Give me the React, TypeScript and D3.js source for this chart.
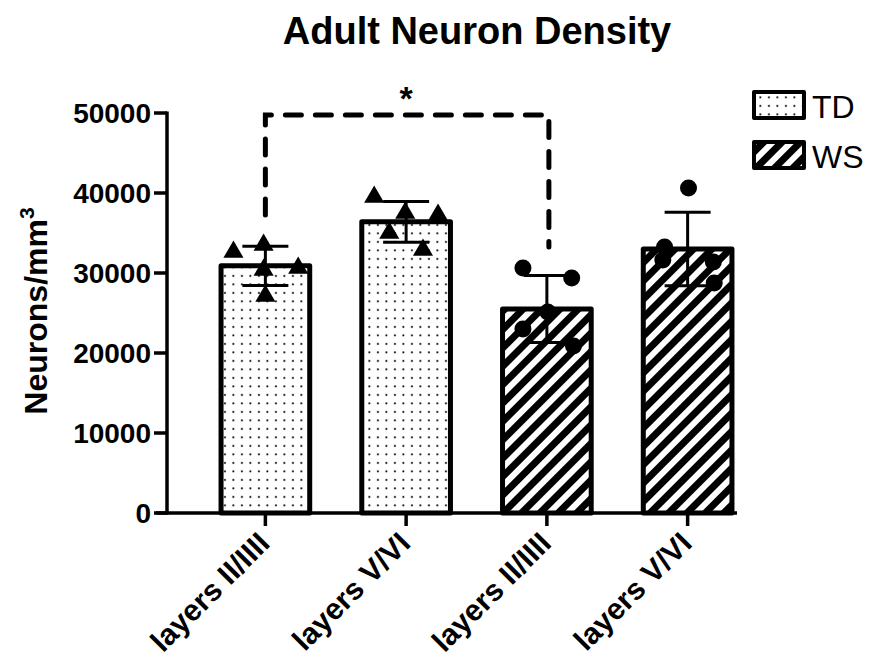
import React from 'react';
import * as d3 from 'd3';

const categories = ['layers II/IIII', 'layers V/VI', 'layers II/IIII', 'layers V/VI'];
const groups = ['TD', 'TD', 'WS', 'WS'];
const means = [30900, 36400, 25500, 33000];
const sds = [2450, 2550, 4200, 4600];

// individual animals per bar
const tdLayersII = [32625, 33500, 30625, 30375, 27125];
const tdLayersV = [39500, 37500, 37250, 35000, 32875];
const wsLayersII = [30625, 29375, 25125, 23000, 20875];
const wsLayersV = [40625, 33250, 31625, 31375, 28750];
const points = [tdLayersII, tdLayersV, wsLayersII, wsLayersV];
// horizontal scatter, as a fraction of bar width
const jitter = [
  [-0.36, -0.02, 0.37, -0.02, 0],
  [-0.36, -0.01, 0.36, -0.19, 0.19],
  [-0.27, 0.28, 0.01, -0.27, 0.3],
  [0.01, -0.26, -0.28, 0.29, 0.3],
];

const yTicks = [0, 10000, 20000, 30000, 40000, 50000];

// significance bracket between bar 0 and bar 2
const sigPair = [0, 2];
const sigTop = 49750;
const sigEnds = [37250, 33250];

const font = '"Liberation Sans", Arial, Helvetica, sans-serif';

export default function App() {
  const width = 882;
  const height = 666;

  const y = d3.scaleLinear().domain([0, 50000]).range([513, 113]);
  const x = d3
    .scaleBand<number>()
    .domain(d3.range(categories.length))
    .range([195, 758])
    .paddingInner(0.37)
    .paddingOuter(0.185);
  const bw = x.bandwidth();
  const cx = (i: number) => (x(i) as number) + bw / 2;

  const fillFor = (g: string) => (g === 'TD' ? 'url(#dots)' : 'url(#hatch)');
  const tri = d3.symbol().type(d3.symbolTriangle).size(175)();

  const sx0 = cx(sigPair[0]);
  const sx1 = cx(sigPair[1]) + 2;
  const bracket = `M${sx0},${y(sigEnds[0])}V${y(sigTop)}H${sx1}V${y(sigEnds[1])}`;

  return (
    <svg
      width={width}
      height={height}
      style={{ position: 'absolute', left: 0, top: 0, background: '#fff' }}
      fontFamily={font}
    >
      <defs>
        <pattern id="dots" width={8.5} height={8.5} patternUnits="userSpaceOnUse">
          <rect width={8.5} height={8.5} fill="#fff" />
          <rect x={3} y={3} width={1.8} height={1.8} fill="#000" />
        </pattern>
        <pattern
          id="hatch"
          width={13}
          height={13}
          patternUnits="userSpaceOnUse"
          patternTransform="rotate(45)"
        >
          <rect width={13} height={13} fill="#fff" />
          <rect width={7} height={13} fill="#000" />
        </pattern>
      </defs>

      <rect width={width} height={height} fill="#fff" />

      <text x={477} y={44} textAnchor="middle" fontSize={38} fontWeight="bold">
        Adult Neuron Density
      </text>

      {/* bars */}
      {means.map((m, i) => (
        <rect
          key={'bar' + i}
          x={x(i)}
          y={y(m)}
          width={bw}
          height={y(0) - y(m)}
          fill={fillFor(groups[i])}
          stroke="#000"
          strokeWidth={5}
          strokeLinejoin="round"
        />
      ))}

      {/* error bars */}
      {means.map((m, i) => (
        <g key={'err' + i} stroke="#000" strokeWidth={3}>
          <line x1={cx(i)} x2={cx(i)} y1={y(m - sds[i])} y2={y(m + sds[i])} />
          <line x1={cx(i) - 23} x2={cx(i) + 23} y1={y(m + sds[i])} y2={y(m + sds[i])} />
          <line x1={cx(i) - 23} x2={cx(i) + 23} y1={y(m - sds[i])} y2={y(m - sds[i])} />
        </g>
      ))}

      {/* points */}
      {points.map((vals, i) =>
        vals.map((v, j) => {
          const px = cx(i) + jitter[i][j] * bw;
          return groups[i] === 'TD' ? (
            <path key={`p${i}-${j}`} d={tri as string} transform={`translate(${px},${y(v)})`} fill="#000" />
          ) : (
            <circle key={`p${i}-${j}`} cx={px} cy={y(v)} r={8.5} fill="#000" />
          );
        })
      )}

      {/* significance */}
      <path
        d={bracket}
        fill="none"
        stroke="#000"
        strokeWidth={5}
        strokeDasharray="16 14"
        strokeLinecap="round"
      />
      <text x={(sx0 + sx1) / 2 - 1} y={110} textAnchor="middle" fontSize={34} fontWeight="bold">
        *
      </text>

      {/* y axis */}
      <g stroke="#000" strokeWidth={3.5}>
        <line x1={167} x2={167} y1={y(0) + 1.5} y2={y(50000) - 1.5} />
        {yTicks.map((t) => (
          <line key={'yt' + t} x1={154} x2={167} y1={y(t)} y2={y(t)} />
        ))}
      </g>
      {yTicks.map((t) => (
        <text
          key={'yl' + t}
          x={151}
          y={y(t)}
          dy="0.36em"
          textAnchor="end"
          fontSize={28}
          fontWeight="bold"
        >
          {t}
        </text>
      ))}
      <text
        transform={`translate(47,311) rotate(-90)`}
        textAnchor="middle"
        fontSize={32}
        fontWeight="bold"
      >
        Neurons/mm
        <tspan dy={-13} fontSize={21}>
          3
        </tspan>
      </text>

      {/* x axis */}
      <g stroke="#000" strokeWidth={3.5}>
        <line x1={156} x2={737} y1={y(0)} y2={y(0)} />
        {categories.map((c, i) => (
          <line key={'xt' + i} x1={cx(i)} x2={cx(i)} y1={y(0)} y2={y(0) + 13} />
        ))}
      </g>
      {categories.map((c, i) => (
        <text
          key={'xl' + i}
          transform={`translate(${cx(i) + 6},${y(0) + 32}) rotate(-45)`}
          textAnchor="end"
          fontSize={30}
          fontWeight="bold"
        >
          {c}
        </text>
      ))}

      {/* legend */}
      {['TD', 'WS'].map((g, k) => (
        <g key={'lg' + g}>
          <rect
            x={754}
            y={92 + k * 50}
            width={50}
            height={26}
            fill={fillFor(g)}
            stroke="#000"
            strokeWidth={4}
            strokeLinejoin="round"
          />
          <text x={812} y={118 + k * 50} fontSize={32}>
            {g}
          </text>
        </g>
      ))}
    </svg>
  );
}
